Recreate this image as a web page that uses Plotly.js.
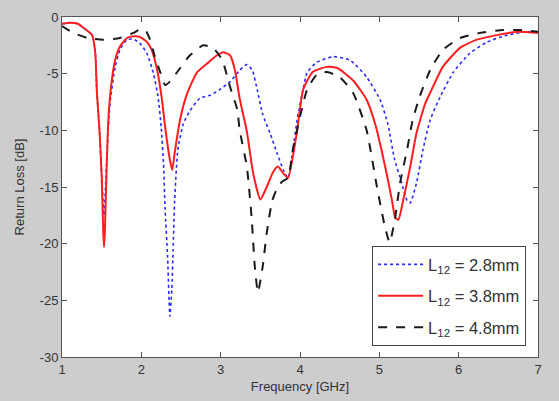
<!DOCTYPE html>
<html>
<head>
<meta charset="utf-8">
<script src="https://cdn.plot.ly/plotly-3.0.1.min.js"></script>
<style>html,body{margin:0;padding:0;background:#cdcdcd;}#chart{width:559px;height:401px;}</style>
</head>
<body>
<div id="chart"></div>
<script>
const xTicks = [1, 2, 3, 4, 5, 6, 7];
const yTicks = [0, -5, -10, -15, -20, -25, -30];
const seriesNames = ["L<sub>12</sub> = 2.8mm", "L<sub>12</sub> = 3.8mm", "L<sub>12</sub> = 4.8mm"];

const freqBlue = [1.00,1.10,1.20,1.26,1.38,1.42,1.44,1.47,1.50,1.53,1.56,1.59,1.61,1.67,1.73,1.82,1.90,1.98,2.07,2.15,2.21,2.25,2.28,2.30,2.33,2.35,2.36,2.385,2.40,2.42,2.46,2.53,2.61,2.74,2.87,2.99,3.12,3.24,3.33,3.40,3.46,3.53,3.62,3.71,3.79,3.85,3.91,3.97,4.03,4.09,4.21,4.42,4.63,4.84,5.01,5.11,5.19,5.28,5.35,5.39,5.47,5.55,5.64,5.75,5.93,6.14,6.36,6.61,6.86,7.00];
const lossBlue = [-0.6,-0.5,-0.6,-0.9,-1.6,-3.2,-6.7,-9.7,-14,-17.5,-13,-9,-7.3,-4.4,-2.9,-2.0,-1.95,-2.3,-3.2,-4.9,-7.0,-9.7,-13,-17,-21,-25,-26.4,-24,-20.6,-16.2,-11.7,-9.4,-8.3,-7.15,-6.9,-6.4,-5.7,-4.7,-4.2,-4.7,-6.4,-8.6,-10.2,-12,-13.5,-14.2,-11.7,-8.8,-6.7,-4.9,-4.0,-3.5,-3.8,-5.3,-7.3,-9.5,-12.5,-14.6,-16.2,-16.4,-14.6,-11.7,-9.1,-7.3,-4.9,-3.2,-2.2,-1.6,-1.3,-1.4];

const freqRed = [1.00,1.10,1.20,1.26,1.38,1.42,1.44,1.47,1.50,1.52,1.53,1.54,1.56,1.58,1.61,1.67,1.73,1.82,1.90,1.98,2.07,2.13,2.20,2.26,2.30,2.36,2.39,2.42,2.49,2.58,2.70,2.83,2.95,3.03,3.12,3.18,3.24,3.33,3.41,3.50,3.58,3.66,3.72,3.79,3.85,3.96,4.04,4.16,4.34,4.47,4.67,4.84,4.95,5.03,5.10,5.16,5.20,5.24,5.30,5.39,5.47,5.58,5.64,5.80,6.02,6.23,6.48,6.74,7.00];
const lossRed = [-0.6,-0.5,-0.6,-0.9,-1.6,-3.2,-6.7,-9.7,-14,-19,-20.3,-19,-14,-9.7,-6.7,-3.8,-2.6,-1.85,-1.7,-1.75,-2.2,-2.9,-4.7,-7.3,-9.7,-12.6,-13.5,-12.0,-9.0,-6.7,-4.9,-4.1,-3.4,-3.1,-3.4,-4.7,-7.2,-10.1,-13.8,-16.1,-15,-13.7,-13.2,-13.8,-14.2,-10.2,-6.4,-4.85,-4.4,-4.5,-5.6,-7.3,-9.5,-11.8,-14.1,-16.2,-17.7,-17.9,-16.2,-13.2,-10.2,-7.6,-6.7,-4.4,-2.7,-2.0,-1.6,-1.3,-1.4];

const freqBlack = [1.00,1.14,1.32,1.52,1.73,1.90,1.98,2.05,2.11,2.17,2.24,2.30,2.36,2.49,2.61,2.78,2.90,3.02,3.12,3.21,3.24,3.33,3.39,3.43,3.47,3.53,3.58,3.65,3.72,3.78,3.85,3.91,4.00,4.09,4.21,4.34,4.50,4.67,4.84,4.97,5.07,5.13,5.20,5.26,5.35,5.42,5.51,5.64,5.80,6.02,6.27,6.56,6.77,7.00];
const lossBlack = [-0.8,-1.4,-1.85,-2.0,-1.85,-1.4,-1.1,-1.15,-2.0,-3.5,-4.9,-6.0,-5.7,-4.5,-3.4,-2.5,-2.7,-3.8,-6.2,-8.2,-10.0,-13.2,-17.7,-22,-24.3,-22,-19.1,-16.2,-15.0,-14.5,-14.2,-11.7,-8.8,-6.4,-5.1,-4.85,-5.3,-6.7,-10.0,-15.0,-18.5,-19.9,-17.7,-14.7,-11.7,-9.1,-7.0,-4.7,-2.9,-1.85,-1.4,-1.15,-1.15,-1.3];

const colors = ["#2a2aff", "#ff1e1e", "#1a1a1a"];
const dashes = ["dot", "solid", "dash"];
const widths = [1.6, 2, 2];
const xs = [freqBlue, freqRed, freqBlack];
const ys = [lossBlue, lossRed, lossBlack];

const traces = xs.map((x, i) => ({
  x: x, y: ys[i], type: "scatter", mode: "lines", name: seriesNames[i],
  legendgroup: "g" + i,
  line: {color: colors[i], dash: dashes[i], width: widths[i], shape: "spline", smoothing: 0.5}
}));

const fontFam = "Liberation Sans, Arial, sans-serif";
const axisCommon = {
  showgrid: false, zeroline: false, showline: true, linecolor: "#555", linewidth: 1,
  mirror: "ticks", ticks: "inside", ticklen: 5, tickcolor: "#555",
  tickfont: {family: fontFam, size: 13, color: "#333"}
};

const layout = {
  width: 559, height: 401,
  paper_bgcolor: "#cdcdcd", plot_bgcolor: "#ffffff",
  margin: {l: 62, r: 21, t: 17, b: 44},
  showlegend: true,
  xaxis: Object.assign({}, axisCommon, {
    range: [1, 7], tickvals: xTicks, ticktext: xTicks.map(String),
    title: {text: "Frequency [GHz]", standoff: 6, font: {family: fontFam, size: 13, color: "#333"}}
  }),
  yaxis: Object.assign({}, axisCommon, {
    range: [-30, 0], tickvals: yTicks, ticktext: yTicks.map(String),
    title: {text: "Return Loss [dB]", standoff: 12, font: {family: fontFam, size: 13, color: "#333"}}
  }),
  legend: {
    x: 0.975, y: 0.032, xanchor: "right", yanchor: "bottom",
    bgcolor: "#ffffff", bordercolor: "#444", borderwidth: 1,
    font: {family: fontFam, size: 16.5, color: "#333"},
    tracegroupgap: 7, traceorder: "grouped", itemwidth: 45
  }
};

Plotly.newPlot("chart", traces, layout, {displayModeBar: false, staticPlot: true});
</script>
</body>
</html>
